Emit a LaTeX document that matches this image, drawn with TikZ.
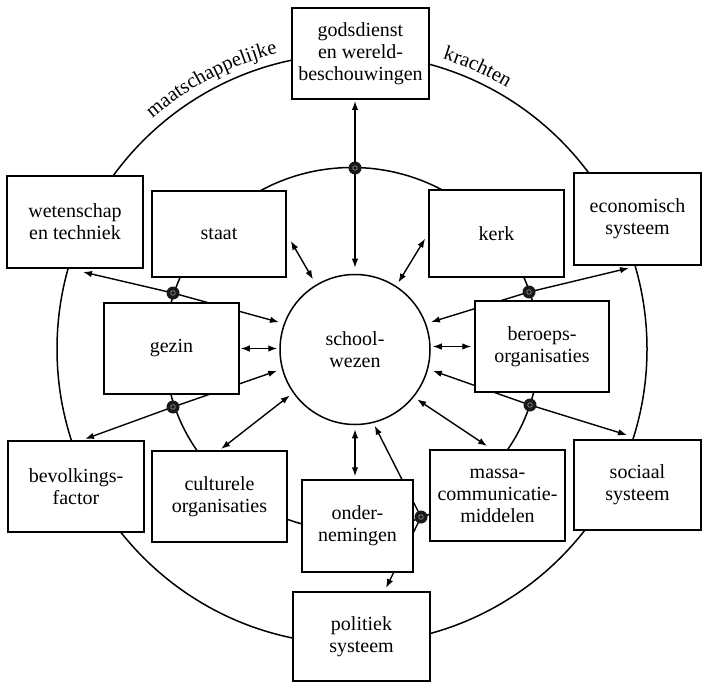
\documentclass[tikz,border=0pt]{standalone}
\usepackage{fontspec}
\setmainfont{Liberation Serif}
\usetikzlibrary{arrows.meta,decorations.text,backgrounds}
\newcommand\boxfont{\fontsize{20}{22}\selectfont}
\newcommand\arcfont{\fontsize{20.5}{22}\selectfont}
\begin{document}
\begin{tikzpicture}[x=1pt,y=1pt,
  box/.style={draw, fill=white, line width=1.5pt, align=center, inner sep=0pt, font=\boxfont},
  dar/.style={arrows={Latex[length=9pt,width=6.5pt]-Latex[length=9pt,width=6.5pt]}, line width=1.4pt},
  ringline/.style={line width=1.5pt},
  dotn/.style={circle, fill=black!90, minimum size=13pt, inner sep=0pt,
    path picture={\draw[black!45, line width=0.7pt] (path picture bounding box.center) circle[radius=2.3pt];}}
]
\useasboundingbox (0,0) rectangle (703,-684);
\coordinate (O) at (352,-349);

% boxes
\node[box, minimum width=137pt, minimum height=91pt] (god) at (360.5,-53.5) {godsdienst\\en wereld-\\beschouwingen};
\node[box, minimum width=136pt, minimum height=92pt] (wet) at (75,-222) {wetenschap\\en techniek};
\node[box, minimum width=134pt, minimum height=86pt] (staat) at (219,-234) {staat};
\node[box, minimum width=135pt, minimum height=87pt] (kerk) at (496.5,-233.5) {kerk};
\node[box, minimum width=127pt, minimum height=92pt] (eco) at (637.5,-219) {economisch\\systeem};
\node[box, minimum width=135pt, minimum height=91pt] (gezin) at (171.5,-348.5) {gezin};
\node[box, minimum width=134pt, minimum height=91pt] (ber) at (542,-346.5) {beroeps-\\organisaties};
\node[box, minimum width=136pt, minimum height=91pt] (bev) at (76,-486.5) {bevolkings-\\factor};
\node[box, minimum width=135pt, minimum height=91pt] (cult) at (219.5,-496.5) {culturele\\organisaties};
\node[box, minimum width=111pt, minimum height=92pt] (onder) at (357.5,-526) {onder-\\nemingen};
\node[box, minimum width=135pt, minimum height=91pt] (massa) at (497.5,-495.5) {massa-\\communicatie-\\middelen};
\node[box, minimum width=127pt, minimum height=90pt] (soc) at (637.5,-485) {sociaal\\systeem};
\node[box, minimum width=137pt, minimum height=89pt] (pol) at (361.5,-636.5) {politiek\\systeem};
\node[draw, fill=white, circle, line width=1.5pt, minimum size=150pt, inner sep=0pt, align=center, font=\boxfont] (school) at (355,-349.5) {school-\\wezen};

% dots on the inner ring
\node[dotn] (dT) at (355,-168) {};
\node[dotn] (dUL) at (173,-293) {};
\node[dotn] (dLL) at (173,-407) {};
\node[dotn] (dUR) at (529,-292) {};
\node[dotn] (dLR) at (530,-405) {};
\node[dotn] (dB) at (421,-517) {};

% arrow ends
\coordinate (godE) at (355,-101);
\coordinate (wetE) at (83,-272);
\coordinate (bevE) at (85,-439);
\coordinate (ecoE) at (629,-268);
\coordinate (socE) at (627,-435);
\coordinate (massaE) at (487,-446);
\coordinate (polE) at (386,-588);

\begin{pgfonlayer}{background}
\draw[ringline] (O) circle[radius=295pt];
\draw[ringline] (O) ellipse[x radius=187pt, y radius=181.5pt];
\draw[dar, shorten >=6pt] (godE) -- (school.north);
\draw[dar, shorten <=8pt, shorten >=6pt] (staat.east) -- (school.121);
\draw[dar, shorten <=6pt, shorten >=4pt] (kerk.west) -- (school.57);
\draw[dar, shorten <=5pt] (school.160) -- (dUL.center) -- (wetE);
\draw[dar, shorten <=5pt] (school.195.6) -- (dLL.center) -- (bevE);
\draw[dar, shorten <=5pt] (school.20) -- (dUR.center) -- (ecoE);
\draw[dar, shorten <=5pt] (school.345.5) -- (dLR.center) -- (socE);
\draw[dar, shorten <=2pt, shorten >=4pt] (cult.north) -- (school.215);
\draw[dar, shorten >=4pt] (massaE) -- (school.321.4);
\draw[dar, shorten <=4pt, shorten >=3pt] (school.south) -- (school.south |- onder.north);
\draw[dar, shorten <=3pt] (school.284.8) -- (dB.center) -- (polE);
\draw[dar, shorten <=1pt, shorten >=2pt] (gezin.east) -- (gezin.east -| school.west);
\draw[dar, shorten <=2pt, shorten >=3pt] (ber.west -| school.east) -- (ber.west);
\end{pgfonlayer}

% labels along the outer circle
\path[decorate, decoration={text along path, text={|\arcfont|maatschappelijke}, text align=center}]
  ([shift={(132:305pt)}]O) arc[start angle=132, end angle=103, radius=305pt];
\path[decorate, decoration={text along path, text={|\arcfont|krachten}, text align=center}]
  ([shift={(74:304pt)}]O) arc[start angle=74, end angle=58, radius=304pt];
\end{tikzpicture}
\end{document}
